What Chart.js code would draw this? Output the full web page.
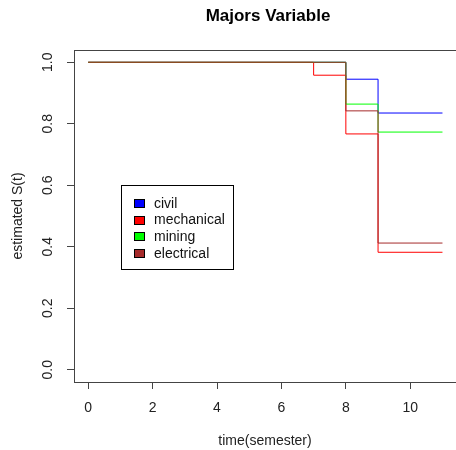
<!DOCTYPE html>
<html>
<head>
<meta charset="utf-8">
<script src="https://cdn.jsdelivr.net/npm/chart.js@4.4.0/dist/chart.umd.min.js"></script>
<style>
  body { margin: 0; background: #fff; }
  canvas { display: block; }
</style>
</head>
<body>
<canvas id="surv" width="456" height="450"></canvas>
<script>
// survival curves, step at each time point
const times = [0, 7, 8, 9, 11];
const civil = [1.0, 1.0, 0.945, 0.835, 0.835];
const mechanical = [1.0, 0.958, 0.767, 0.382, 0.382];
const mining = [1.0, 1.0, 0.864, 0.773, 0.773];
const electrical = [1.0, 1.0, 0.842, 0.412, 0.412];

const groupNames = ['civil', 'mechanical', 'mining', 'electrical'];
const groupColors = ['#0000FF', '#FF0000', '#00FF00', '#A52A2A'];

const xTicks = [0, 2, 4, 6, 8, 10];
const yTicks = [0.0, 0.2, 0.4, 0.6, 0.8, 1.0];

const FONT = "'Liberation Sans', Arial, sans-serif";

function toPoints(vals) {
    return times.map((t, i) => ({ x: t, y: vals[i] }));
}

const series = [civil, mechanical, mining, electrical];

// draws the R-style texts, top border and legend
const rDecor = {
    id: 'rDecor',
    afterDraw(chart) {
        const ctx = chart.ctx;
        const area = chart.chartArea;
        const xs = chart.scales.x;
        const ys = chart.scales.y;
        ctx.save();

        // top frame line
        ctx.strokeStyle = '#444';
        ctx.lineWidth = 1;
        ctx.beginPath();
        ctx.moveTo(area.left, area.top + 0.5);
        ctx.lineTo(area.right, area.top + 0.5);
        ctx.stroke();

        ctx.fillStyle = '#222';
        ctx.font = '14px ' + FONT;
        ctx.textAlign = 'center';
        ctx.textBaseline = 'middle';
        xTicks.forEach(v => {
            ctx.fillText(String(v), xs.getPixelForValue(v), 408);
        });
        yTicks.forEach(v => {
            ctx.save();
            ctx.translate(48, ys.getPixelForValue(v));
            ctx.rotate(-Math.PI / 2);
            ctx.fillText(v.toFixed(1), 0, 0);
            ctx.restore();
        });

        // axis titles
        ctx.fillText('time(semester)', 265, 441);
        ctx.save();
        ctx.translate(18, (area.top + area.bottom) / 2);
        ctx.rotate(-Math.PI / 2);
        ctx.fillText('estimated S(t)', 0, 0);
        ctx.restore();

        // main title
        ctx.fillStyle = '#000';
        ctx.font = 'bold 17px ' + FONT;
        ctx.fillText('Majors Variable', 268, 16);

        // legend at (1, 0.6) like legend(1, 0.6, ...)
        const lx = Math.round(xs.getPixelForValue(1)) + 1;
        const ly = Math.round(ys.getPixelForValue(0.6));
        const rowH = 16.6;
        const boxW = 112;
        const boxH = 84;
        ctx.strokeStyle = '#000';
        ctx.strokeRect(lx + 0.5, ly + 0.5, boxW, boxH);
        ctx.font = '14px ' + FONT;
        ctx.textAlign = 'left';
        groupNames.forEach((name, i) => {
            const cy = ly + 18 + i * rowH;
            ctx.fillStyle = groupColors[i];
            ctx.fillRect(lx + 13, Math.round(cy - 4), 11, 9);
            ctx.strokeStyle = '#000';
            ctx.strokeRect(lx + 13.5, Math.round(cy - 4) + 0.5, 10, 8);
            ctx.fillStyle = '#111';
            ctx.fillText(name, lx + 33, cy + 1);
        });

        ctx.restore();
    }
};

new Chart(document.getElementById('surv'), {
    type: 'line',
    data: {
        datasets: groupNames.map((name, i) => ({
            label: name,
            data: toPoints(series[i]),
            borderColor: groupColors[i],
            borderWidth: 1,
            stepped: 'before',
            pointRadius: 0,
            fill: false,
            order: groupNames.length - i
        }))
    },
    options: {
        responsive: false,
        animation: false,
        layout: { padding: { top: 50, left: 0, right: 0, bottom: 0 } },
        scales: {
            x: {
                type: 'linear',
                min: -0.44,
                max: 11.42,
                afterBuildTicks: s => { s.ticks = xTicks.map(v => ({ value: v })); },
                afterFit: s => { s.height = 68; },
                ticks: { display: false },
                grid: { drawOnChartArea: false, drawTicks: true, tickLength: 7, color: '#444' },
                border: { color: '#444', width: 1 }
            },
            y: {
                min: -0.04,
                max: 1.04,
                afterBuildTicks: s => { s.ticks = yTicks.map(v => ({ value: v })); },
                afterFit: s => { s.width = 74; },
                ticks: { display: false },
                grid: { drawOnChartArea: false, drawTicks: true, tickLength: 7, color: '#444' },
                border: { color: '#444', width: 1 }
            }
        },
        plugins: {
            legend: { display: false },
            tooltip: { enabled: false }
        }
    },
    plugins: [rDecor]
});
</script>
</body>
</html>
